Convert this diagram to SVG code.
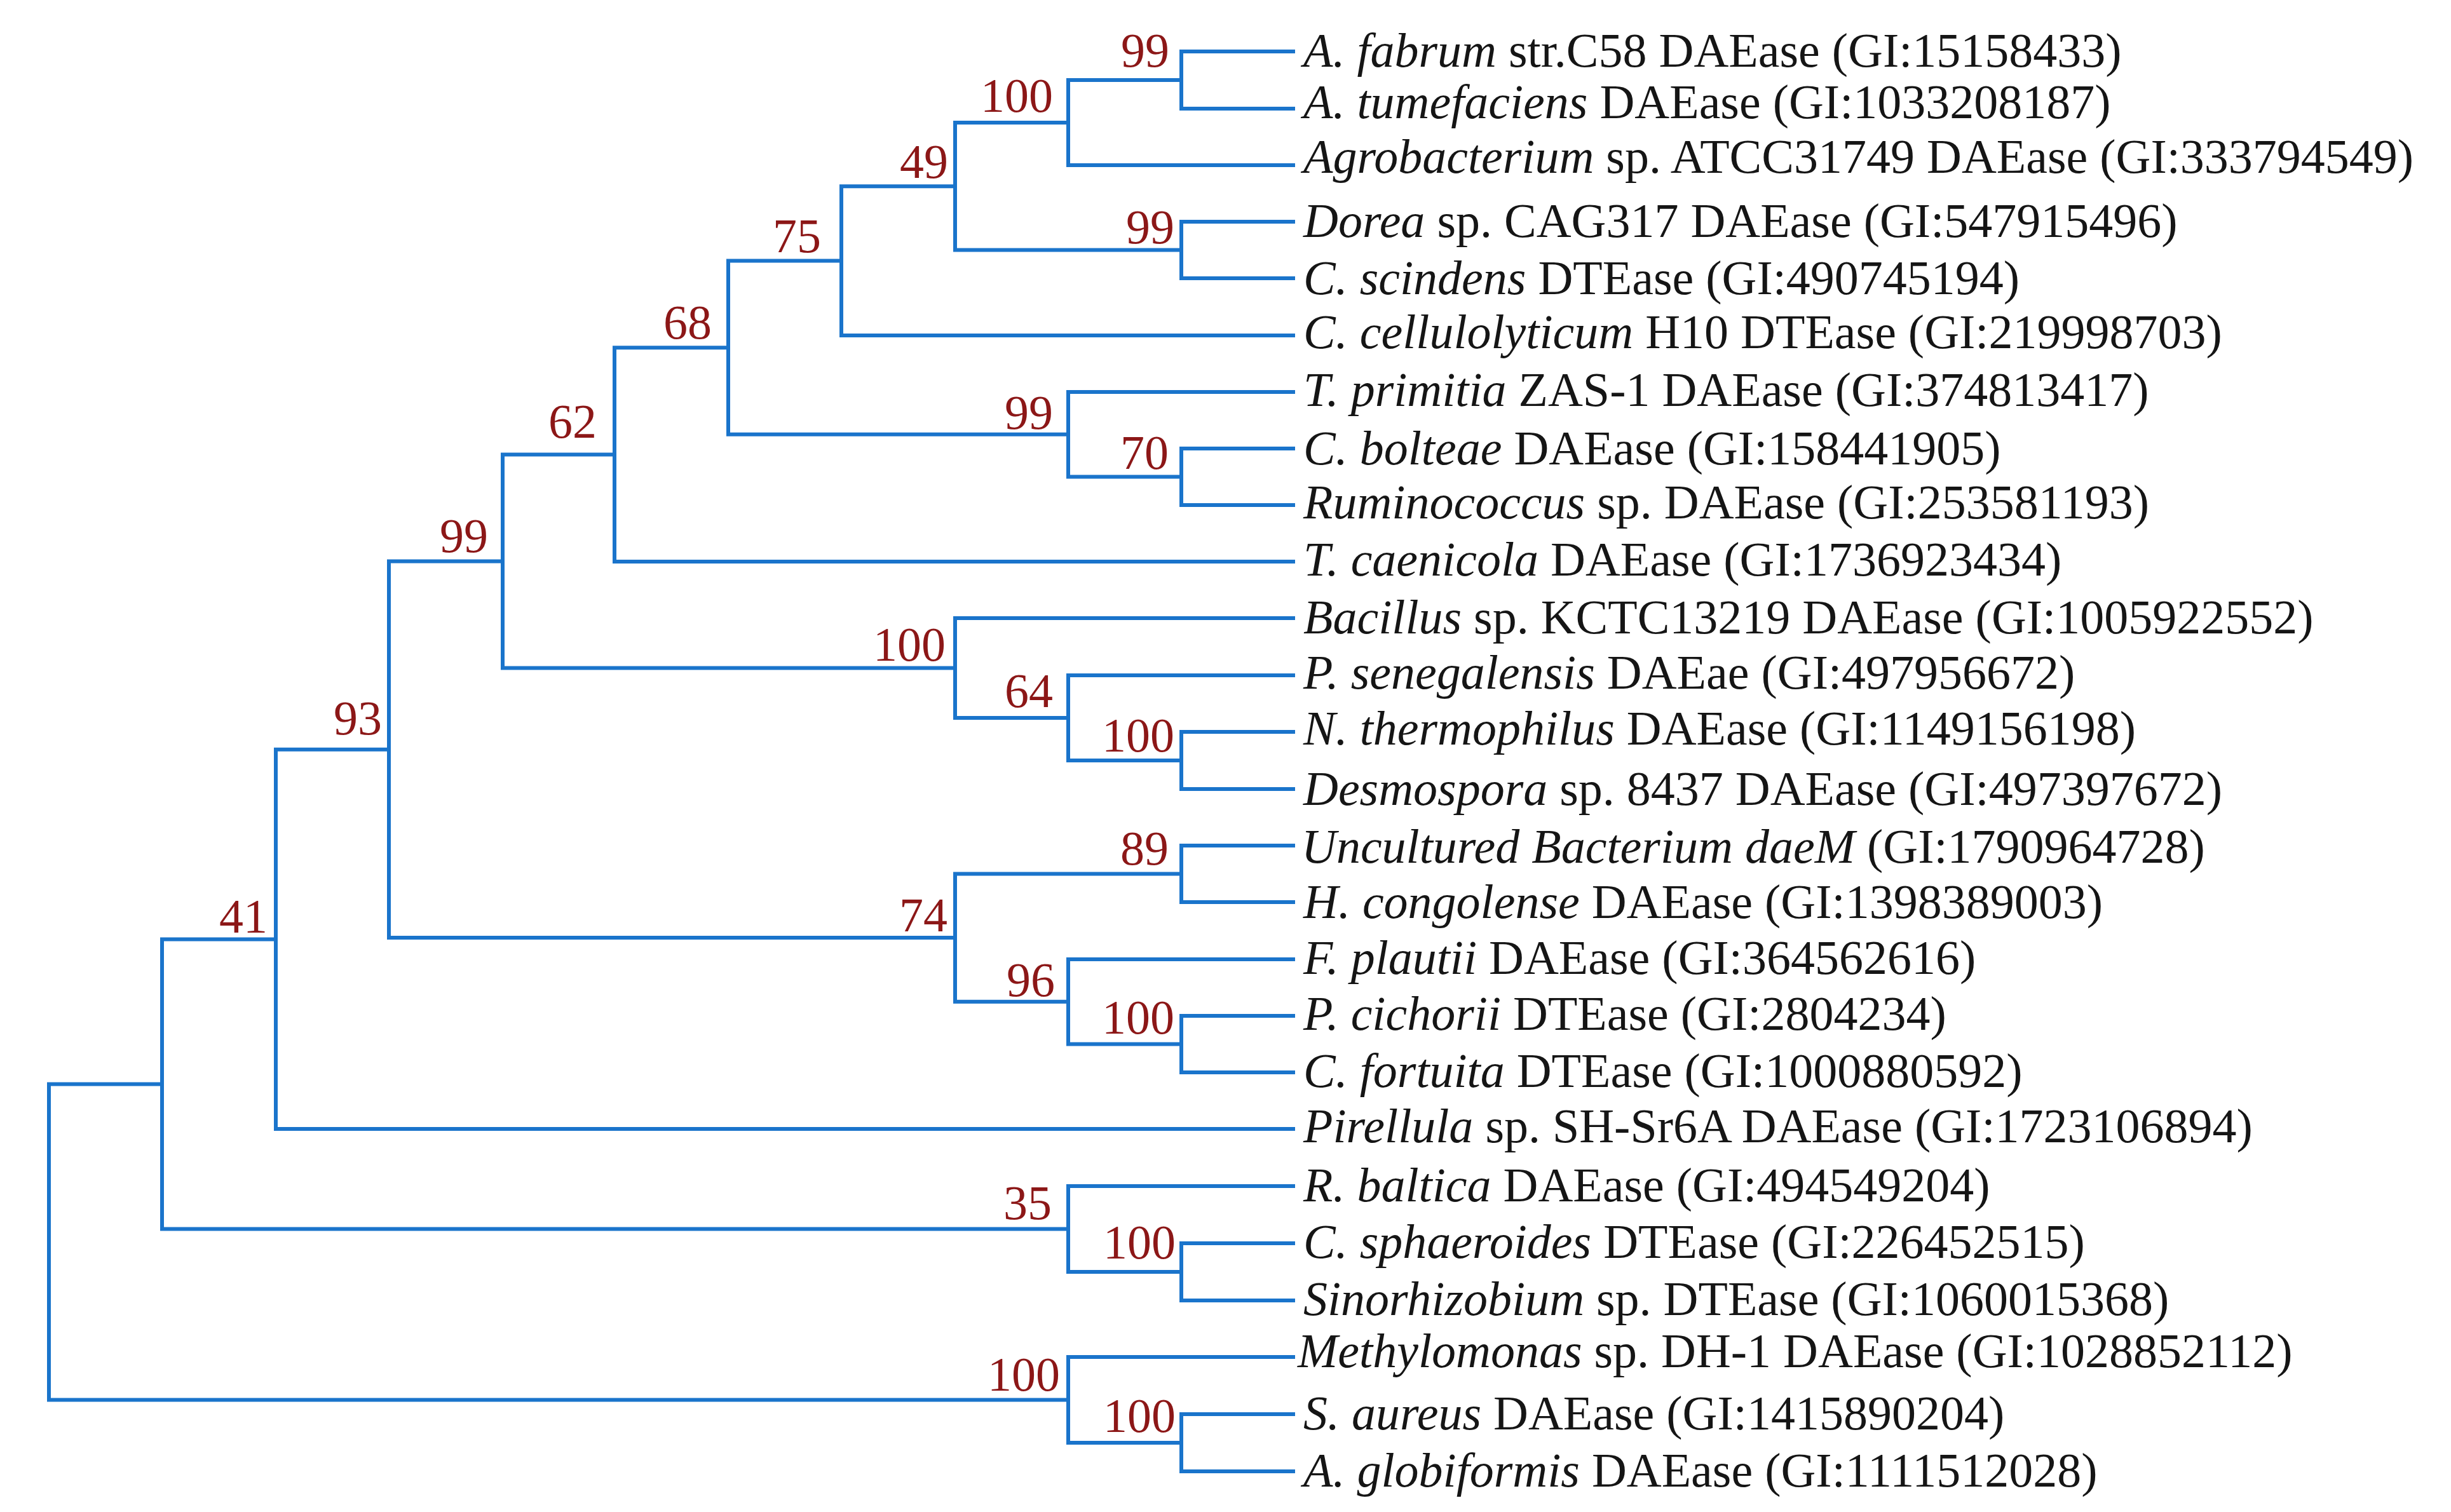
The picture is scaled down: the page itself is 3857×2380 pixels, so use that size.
<svg xmlns="http://www.w3.org/2000/svg" width="3857" height="2380" viewBox="0 0 3857 2380">
<style>
.br{fill:none;stroke:#1a74cb;stroke-width:6;stroke-linejoin:miter;stroke-linecap:butt}
.lf{font-family:"Liberation Serif","Times New Roman",serif;font-size:76px;fill:#151515}
.it{font-style:italic}
.bs{font-family:"Liberation Serif","Times New Roman",serif;font-size:76px;fill:#8c1717;text-anchor:end}
</style>
<rect width="3857" height="2380" fill="#ffffff"/>
<g id="connectors">
<path class="br" d="M2038 81H1859V171H2038"/>
<path class="br" d="M1859 126H1681V260H2038"/>
<path class="br" d="M2038 349H1859V438H2038"/>
<path class="br" d="M1681 193H1503V393.5H1859"/>
<path class="br" d="M1503 293.25H1324V528H2038"/>
<path class="br" d="M2038 706H1859V795H2038"/>
<path class="br" d="M2038 617H1681V750.5H1859"/>
<path class="br" d="M1324 410.6H1146V683.75H1681"/>
<path class="br" d="M1146 547.2H967V884H2038"/>
<path class="br" d="M2038 1152H1859V1242H2038"/>
<path class="br" d="M2038 1063H1681V1197H1859"/>
<path class="br" d="M2038 973H1503V1130H1681"/>
<path class="br" d="M967 715.6H791V1051.5H1503"/>
<path class="br" d="M2038 1331H1859V1420H2038"/>
<path class="br" d="M2038 1599H1859V1688H2038"/>
<path class="br" d="M2038 1510H1681V1643.5H1859"/>
<path class="br" d="M1859 1375.5H1503V1576.75H1681"/>
<path class="br" d="M791 883.5H612V1476.1H1503"/>
<path class="br" d="M612 1179.8H434V1777H2038"/>
<path class="br" d="M2038 1957H1859V2047H2038"/>
<path class="br" d="M2038 1867H1681V2002H1859"/>
<path class="br" d="M434 1478.4H255V1934.5H1681"/>
<path class="br" d="M2038 2226H1859V2316H2038"/>
<path class="br" d="M2038 2136H1681V2271H1859"/>
<path class="br" d="M255 1706.5H77V2203.5H1681"/>
</g>
<g id="bootstrap">
<g id="node-a"><text class="bs" x="1840" y="105">99</text></g>
<g id="node-b"><text class="bs" x="1657" y="176">100</text></g>
<g id="node-c"><text class="bs" x="1848" y="383">99</text></g>
<g id="node-d"><text class="bs" x="1492" y="280">49</text></g>
<g id="node-e"><text class="bs" x="1292" y="397">75</text></g>
<g id="node-f"><text class="bs" x="1839" y="738">70</text></g>
<g id="node-g"><text class="bs" x="1657" y="675">99</text></g>
<g id="node-h"><text class="bs" x="1120" y="533">68</text></g>
<g id="node-i"><text class="bs" x="939" y="689">62</text></g>
<g id="node-j"><text class="bs" x="1848" y="1183">100</text></g>
<g id="node-k"><text class="bs" x="1657" y="1113">64</text></g>
<g id="node-l"><text class="bs" x="1488" y="1040">100</text></g>
<g id="node-m"><text class="bs" x="768" y="869">99</text></g>
<g id="node-n"><text class="bs" x="1839" y="1361">89</text></g>
<g id="node-o"><text class="bs" x="1848" y="1627">100</text></g>
<g id="node-p"><text class="bs" x="1660" y="1568">96</text></g>
<g id="node-q"><text class="bs" x="1491" y="1466">74</text></g>
<g id="node-r"><text class="bs" x="601" y="1156">93</text></g>
<g id="node-s"><text class="bs" x="421" y="1468">41</text></g>
<g id="node-t"><text class="bs" x="1850" y="1981">100</text></g>
<g id="node-u"><text class="bs" x="1655" y="1919">35</text></g>
<g id="node-w"><text class="bs" x="1850" y="2254">100</text></g>
<g id="node-x"><text class="bs" x="1668" y="2189">100</text></g>
</g>
<g id="leaves">
<g id="leaf-01"><text class="lf" x="2051" y="105"><tspan class="it">A. fabrum</tspan> str.C58 DAEase (GI:15158433)</text></g>
<g id="leaf-02"><text class="lf" x="2051" y="186"><tspan class="it">A. tumefaciens</tspan> DAEase (GI:1033208187)</text></g>
<g id="leaf-03"><text class="lf" x="2051" y="272"><tspan class="it">Agrobacterium</tspan> sp. ATCC31749 DAEase (GI:333794549)</text></g>
<g id="leaf-04"><text class="lf" x="2051" y="373"><tspan class="it">Dorea</tspan> sp. CAG317 DAEase (GI:547915496)</text></g>
<g id="leaf-05"><text class="lf" x="2051" y="463"><tspan class="it">C. scindens</tspan> DTEase (GI:490745194)</text></g>
<g id="leaf-06"><text class="lf" x="2051" y="548"><tspan class="it">C. cellulolyticum</tspan> H10 DTEase (GI:219998703)</text></g>
<g id="leaf-07"><text class="lf" x="2051" y="639"><tspan class="it">T. primitia</tspan> ZAS-1 DAEase (GI:374813417)</text></g>
<g id="leaf-08"><text class="lf" x="2051" y="731"><tspan class="it">C. bolteae</tspan> DAEase (GI:158441905)</text></g>
<g id="leaf-09"><text class="lf" x="2051" y="816"><tspan class="it">Ruminococcus</tspan> sp. DAEase (GI:253581193)</text></g>
<g id="leaf-10"><text class="lf" x="2051" y="906"><tspan class="it">T. caenicola</tspan> DAEase (GI:1736923434)</text></g>
<g id="leaf-11"><text class="lf" x="2051" y="997"><tspan class="it">Bacillus</tspan> sp. KCTC13219 DAEase (GI:1005922552)</text></g>
<g id="leaf-12"><text class="lf" x="2051" y="1084"><tspan class="it">P. senegalensis</tspan> DAEae (GI:497956672)</text></g>
<g id="leaf-13"><text class="lf" x="2051" y="1172"><tspan class="it">N. thermophilus</tspan> DAEase (GI:1149156198)</text></g>
<g id="leaf-14"><text class="lf" x="2051" y="1267"><tspan class="it">Desmospora</tspan> sp. 8437 DAEase (GI:497397672)</text></g>
<g id="leaf-15"><text class="lf" x="2048" y="1358"><tspan class="it">Uncultured Bacterium daeM</tspan> (GI:1790964728)</text></g>
<g id="leaf-16"><text class="lf" x="2051" y="1445"><tspan class="it">H. congolense</tspan> DAEase (GI:1398389003)</text></g>
<g id="leaf-17"><text class="lf" x="2051" y="1533"><tspan class="it">F. plautii</tspan> DAEase (GI:364562616)</text></g>
<g id="leaf-18"><text class="lf" x="2051" y="1621"><tspan class="it">P. cichorii</tspan> DTEase (GI:2804234)</text></g>
<g id="leaf-19"><text class="lf" x="2051" y="1711"><tspan class="it">C. fortuita</tspan> DTEase (GI:1000880592)</text></g>
<g id="leaf-20"><text class="lf" x="2051" y="1798"><tspan class="it">Pirellula</tspan> sp. SH-Sr6A DAEase (GI:1723106894)</text></g>
<g id="leaf-21"><text class="lf" x="2051" y="1891"><tspan class="it">R. baltica</tspan> DAEase (GI:494549204)</text></g>
<g id="leaf-22"><text class="lf" x="2051" y="1980"><tspan class="it">C. sphaeroides</tspan> DTEase (GI:226452515)</text></g>
<g id="leaf-23"><text class="lf" x="2051" y="2070"><tspan class="it">Sinorhizobium</tspan> sp. DTEase (GI:1060015368)</text></g>
<g id="leaf-24"><text class="lf" x="2042" y="2152"><tspan class="it">Methylomonas</tspan> sp. DH-1 DAEase (GI:1028852112)</text></g>
<g id="leaf-25"><text class="lf" x="2051" y="2250"><tspan class="it">S. aureus</tspan> DAEase (GI:1415890204)</text></g>
<g id="leaf-26"><text class="lf" x="2051" y="2340"><tspan class="it">A. globiformis</tspan> DAEase (GI:1111512028)</text></g>
</g>
</svg>
